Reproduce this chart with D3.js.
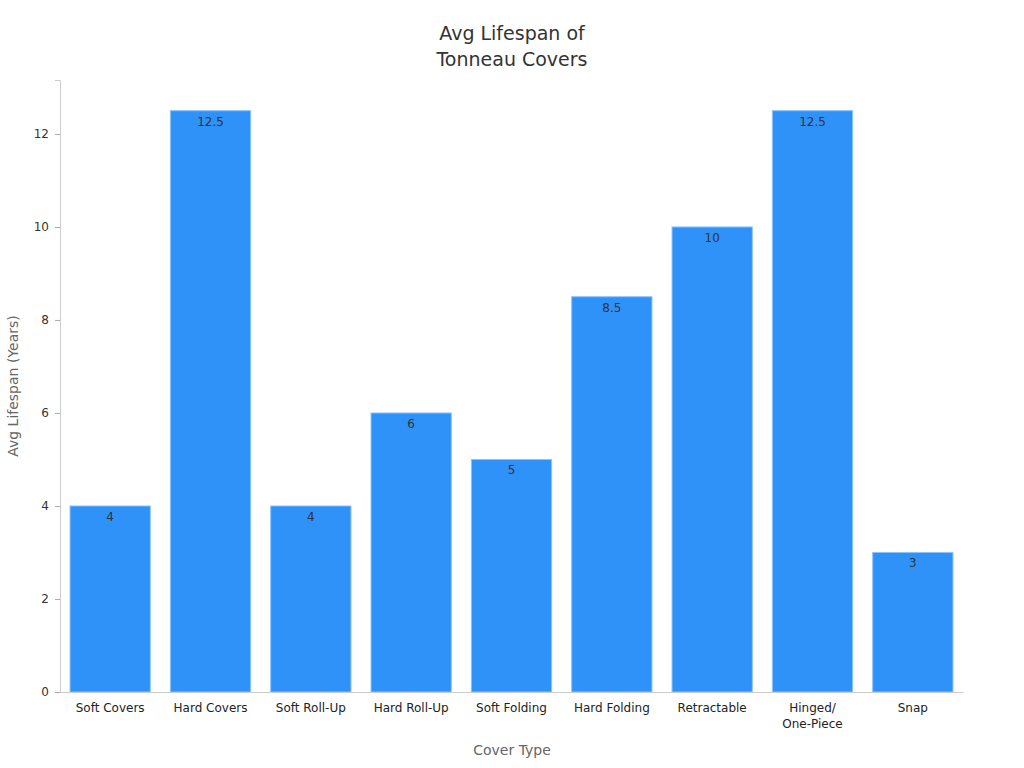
<!DOCTYPE html>
<html><head><meta charset="utf-8">
<script src="https://cdn.jsdelivr.net/npm/d3@7"></script>
<style>body{margin:0;background:#fff;font-family:"DejaVu Sans",sans-serif;}</style>
</head><body><svg id="chart"></svg>
<script>
const categories = ["Soft Covers","Hard Covers","Soft Roll-Up","Hard Roll-Up","Soft Folding","Hard Folding","Retractable","Hinged/\nOne-Piece","Snap"];
const lifespan = [4, 12.5, 4, 6, 5, 8.5, 10, 12.5, 3];
const yTicks = [0, 2, 4, 6, 8, 10, 12];

const width = 1024, height = 768;
const margin = {top: 80, right: 61, bottom: 76, left: 60};
const svg = d3.select("#chart").attr("width", width).attr("height", height)
  .style("font-family", "'DejaVu Sans', sans-serif");

const x = d3.scaleBand().domain(categories)
  .range([margin.left, width - margin.right]).paddingInner(0.2).paddingOuter(0.1);
const y = d3.scaleLinear().domain([0, 13.16]).range([height - margin.bottom, margin.top]);

// title
svg.append("text").attr("x", 512).attr("y", 40).attr("text-anchor", "middle")
  .attr("font-size", 19).attr("fill", "#333").text("Avg Lifespan of");
svg.append("text").attr("x", 512).attr("y", 66).attr("text-anchor", "middle")
  .attr("font-size", 19).attr("fill", "#333").text("Tonneau Covers");

// bars
svg.selectAll("rect.bar").data(lifespan).join("rect")
  .attr("class", "bar")
  .attr("x", (d, i) => x(categories[i]))
  .attr("y", d => y(d))
  .attr("width", x.bandwidth())
  .attr("height", d => y(0) - y(d))
  .attr("fill", "#2e92f8")
  .attr("stroke", "#8cc3fb")
  .attr("stroke-width", 1);

svg.selectAll("text.val").data(lifespan).join("text")
  .attr("class", "val")
  .attr("x", (d, i) => x(categories[i]) + x.bandwidth() / 2)
  .attr("y", d => y(d) + 15)
  .attr("text-anchor", "middle").attr("font-size", 12).attr("fill", "#333")
  .text(d => d);

// y axis
const yAxis = svg.append("g").attr("transform", `translate(${margin.left},0)`)
  .call(d3.axisLeft(y).tickValues(yTicks).tickSize(5).tickPadding(6));
yAxis.select(".domain").attr("stroke", "#ccc");
yAxis.selectAll(".tick line").attr("stroke", "#aaa");
yAxis.selectAll("text").attr("font-size", 12).attr("fill", "#333").style("font-family", "'DejaVu Sans', sans-serif");

// x axis
const xAxis = svg.append("g").attr("transform", `translate(0,${height - margin.bottom})`)
  .call(d3.axisBottom(x).tickSize(0).tickPadding(10).tickFormat(""));
xAxis.select(".domain").attr("stroke", "#ccc");
xAxis.selectAll(".tick").each(function(d) {
  const lines = d.split("\n");
  const t = d3.select(this).append("text").attr("fill", "#222").attr("font-size", 12)
    .attr("text-anchor", "middle").style("font-family", "'DejaVu Sans', sans-serif");
  lines.forEach((l, i) => t.append("tspan").attr("x", 0).attr("y", 20 + i * 16).text(l));
});

// axis titles
svg.append("text").attr("x", 512).attr("y", 755).attr("text-anchor", "middle")
  .attr("font-size", 14).attr("fill", "#666").text("Cover Type");
svg.append("text").attr("transform", "translate(18,386) rotate(-90)").attr("text-anchor", "middle")
  .attr("font-size", 14).attr("fill", "#666").text("Avg Lifespan (Years)");
</script></body></html>
